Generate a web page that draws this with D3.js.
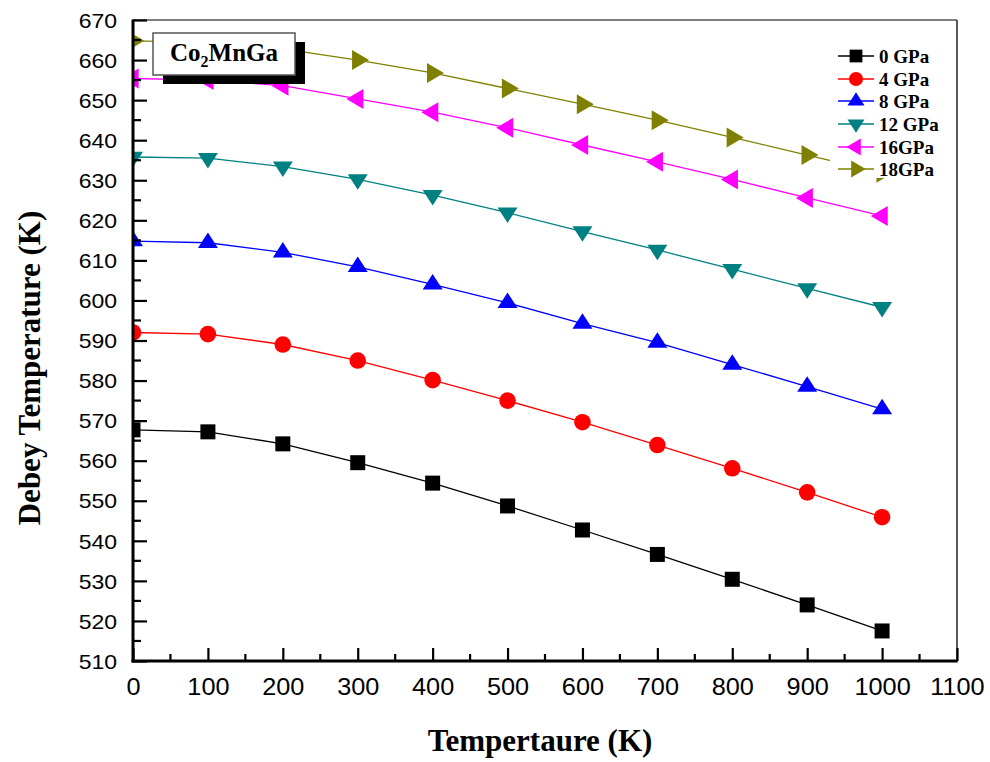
<!DOCTYPE html>
<html>
<head>
<meta charset="utf-8">
<script src="https://cdn.jsdelivr.net/npm/d3@7"></script>
<style>
  html, body { margin: 0; padding: 0; background: #fff; }
  svg { display: block; }
</style>
</head>
<body>
<svg id="chart" width="990" height="762"></svg>
<script>
// Temperature grid (K)
const temperatures = [0, 100, 200, 300, 400, 500, 600, 700, 800, 900, 1000];

// Debye temperature (K) for each pressure
const theta0GPa  = [567.7, 567.2, 564.2, 559.5, 554.4, 548.7, 542.7, 536.6, 530.4, 524.0, 517.5];
const theta4GPa  = [592.0, 591.6, 589.0, 585.0, 580.1, 575.0, 569.6, 563.9, 558.1, 552.1, 545.9];
const theta8GPa  = [614.8, 614.4, 612.0, 608.4, 604.0, 599.4, 594.2, 589.5, 584.0, 578.5, 572.9];
const theta12GPa = [635.8, 635.5, 633.4, 630.2, 626.3, 621.9, 617.2, 612.6, 607.8, 603.0, 598.3];
const theta16GPa = [655.4, 655.0, 653.6, 650.3, 647.0, 643.1, 638.8, 634.6, 630.2, 625.6, 621.1];
const theta18GPa = [664.8, 664.4, 662.8, 660.0, 656.8, 652.9, 649.0, 645.0, 640.7, 636.3, 631.9];

const seriesNames  = ["0 GPa", "4 GPa", "8 GPa", "12 GPa", "16GPa", "18GPa"];
const seriesValues = [theta0GPa, theta4GPa, theta8GPa, theta12GPa, theta16GPa, theta18GPa];
const seriesColors = ["#000000", "#ff0000", "#0000ff", "#008080", "#ff00ff", "#808000"];
const seriesShapes = ["square", "circle", "up", "down", "left", "right"];

const xTicks = [0, 100, 200, 300, 400, 500, 600, 700, 800, 900, 1000, 1100];
const yTicks = [510, 520, 530, 540, 550, 560, 570, 580, 590, 600, 610, 620, 630, 640, 650, 660, 670];

const compound = { base1: "Co", sub: "2", base2: "MnGa" };
const xTitle = "Tempertaure (K)";
const yTitle = "Debey Temperature (K)";

const svg = d3.select("#chart");
const plot = { left: 133, right: 957, top: 20, bottom: 661 };

const x = d3.scaleLinear().domain([0, 1100]).range([plot.left, plot.right]);
const y = d3.scaleLinear().domain([510, 670]).range([plot.bottom, plot.top]);

// marker path generator, centred on the data point
function markerPath(shape, k) {
  const s = k || 1;
  switch (shape) {
    case "square": {
      const h = 7.5 * s;
      return `M${-h},${-h}H${h}V${h}H${-h}Z`;
    }
    case "circle": {
      const r = 8.3 * s;
      return `M${r},0A${r},${r} 0 1,1 ${-r},0A${r},${r} 0 1,1 ${r},0Z`;
    }
    case "up": {
      const w = 10 * s, h = 15.5 * s;
      return `M0,${-2 * h / 3}L${w},${h / 3}L${-w},${h / 3}Z`;
    }
    case "down": {
      const w = 10 * s, h = 15.5 * s;
      return `M0,${2 * h / 3}L${w},${-h / 3}L${-w},${-h / 3}Z`;
    }
    case "left": {
      const w = 10 * s, h = 17 * s;
      return `M${-2 * h / 3},0L${h / 3},${-w}L${h / 3},${w}Z`;
    }
    case "right": {
      const w = 10 * s, h = 17 * s;
      return `M${2 * h / 3},0L${-h / 3},${-w}L${-h / 3},${w}Z`;
    }
  }
}

// clip region for the data
svg.append("defs").append("clipPath").attr("id", "plotClip")
  .append("rect")
  .attr("x", plot.left).attr("y", plot.top)
  .attr("width", plot.right - plot.left).attr("height", plot.bottom - plot.top);

// series
const line = d3.line().x((d, i) => x(temperatures[i])).y(d => y(d));
const dataLayer = svg.append("g").attr("clip-path", "url(#plotClip)");

seriesValues.forEach((vals, si) => {
  const g = dataLayer.append("g");
  g.append("path")
    .attr("d", line(vals))
    .attr("fill", "none")
    .attr("stroke", seriesColors[si])
    .attr("stroke-width", 1.3);
  g.selectAll("path.mk")
    .data(vals)
    .join("path")
    .attr("class", "mk")
    .attr("transform", (d, i) => `translate(${x(temperatures[i])},${y(d)})`)
    .attr("d", markerPath(seriesShapes[si]))
    .attr("fill", seriesColors[si]);
});

// frame: top and right thin, left and bottom heavy
svg.append("line")
  .attr("x1", plot.left).attr("x2", plot.right)
  .attr("y1", plot.top).attr("y2", plot.top)
  .attr("stroke", "#555").attr("stroke-width", 1.5);
svg.append("line")
  .attr("x1", plot.right).attr("x2", plot.right)
  .attr("y1", plot.top).attr("y2", plot.bottom)
  .attr("stroke", "#222").attr("stroke-width", 1.5);

// y axis with inward ticks
const yMinor = d3.range(515, 670, 10);
const yAxis = d3.axisLeft(y).tickValues(yTicks).tickSize(-14).tickPadding(30).tickFormat(d3.format("d"));
const gy = svg.append("g").attr("transform", `translate(${plot.left},0)`).call(yAxis);
gy.select(".domain").remove();
gy.selectAll(".tick line").attr("stroke", "#000").attr("stroke-width", 2.2);
gy.selectAll(".tick text")
  .attr("font-family", "'Liberation Sans', Arial, sans-serif")
  .attr("font-size", 20)
  .attr("fill", "#000")
  .attr("x", -16)
  .attr("dy", "0.36em")
  .attr("text-anchor", "end")
  .attr("transform", "scale(1.15,1)")
  .attr("transform-origin", "-16 0");
svg.append("g").selectAll("line").data(yMinor).join("line")
  .attr("x1", plot.left).attr("x2", plot.left + 8)
  .attr("y1", d => y(d)).attr("y2", d => y(d))
  .attr("stroke", "#000").attr("stroke-width", 2.2);

// x axis with inward ticks
const xMinor = d3.range(50, 1100, 100);
const xAxis = d3.axisBottom(x).tickValues(xTicks).tickSize(-13).tickPadding(30).tickFormat(d3.format("d"));
const gx = svg.append("g").attr("transform", `translate(0,${plot.bottom})`).call(xAxis);
gx.select(".domain").remove();
gx.selectAll(".tick line").attr("stroke", "#000").attr("stroke-width", 2.2);
gx.selectAll(".tick text")
  .attr("font-family", "'Liberation Sans', Arial, sans-serif")
  .attr("font-size", 23)
  .attr("fill", "#000")
  .attr("y", 34)
  .attr("dy", "0")
  .attr("transform", "scale(1.1,1)")
  .attr("transform-origin", "0 0");
svg.append("g").selectAll("line").data(xMinor).join("line")
  .attr("x1", d => x(d)).attr("x2", d => x(d))
  .attr("y1", plot.bottom).attr("y2", plot.bottom - 7)
  .attr("stroke", "#000").attr("stroke-width", 2.2);

// heavy left and bottom axis lines
svg.append("line")
  .attr("x1", plot.left).attr("x2", plot.left)
  .attr("y1", plot.top - 0.5).attr("y2", plot.bottom + 1.5)
  .attr("stroke", "#000").attr("stroke-width", 3);
svg.append("line")
  .attr("x1", plot.left - 1.5).attr("x2", plot.right + 0.75)
  .attr("y1", plot.bottom).attr("y2", plot.bottom)
  .attr("stroke", "#000").attr("stroke-width", 3);

// axis titles
svg.append("text")
  .attr("x", 540).attr("y", 751)
  .attr("text-anchor", "middle")
  .attr("font-family", "'Liberation Serif', 'Times New Roman', serif")
  .attr("font-weight", "bold")
  .attr("font-size", 31)
  .text(xTitle);
svg.append("text")
  .attr("transform", "translate(40,368) rotate(-90)")
  .attr("text-anchor", "middle")
  .attr("font-family", "'Liberation Serif', 'Times New Roman', serif")
  .attr("font-weight", "bold")
  .attr("font-size", 31)
  .text(yTitle);

// compound label with drop shadow
const box = { x: 153, y: 33, w: 142, h: 42 };
svg.append("rect")
  .attr("x", box.x + 10).attr("y", box.y + 9)
  .attr("width", box.w).attr("height", box.h)
  .attr("fill", "#000");
svg.append("rect")
  .attr("x", box.x).attr("y", box.y)
  .attr("width", box.w).attr("height", box.h)
  .attr("fill", "#fff").attr("stroke", "#555").attr("stroke-width", 1.5);
const label = svg.append("text")
  .attr("x", box.x + box.w / 2).attr("y", 61)
  .attr("text-anchor", "middle")
  .attr("font-family", "'Liberation Serif', 'Times New Roman', serif")
  .attr("font-weight", "bold")
  .attr("font-size", 25);
label.append("tspan").text(compound.base1);
label.append("tspan").attr("font-size", 16).attr("dy", 6).text(compound.sub);
label.append("tspan").attr("dy", -6).text(compound.base2);

// legend
const legend = svg.append("g");
legend.append("rect")
  .attr("x", 830).attr("y", 40).attr("width", 126).attr("height", 138)
  .attr("fill", "#fff");
const rowY = [56, 79, 101, 124, 147, 169];
seriesNames.forEach((name, i) => {
  const r = legend.append("g").attr("transform", `translate(0,${rowY[i]})`);
  r.append("line")
    .attr("x1", 838).attr("x2", 874).attr("y1", 0).attr("y2", 0)
    .attr("stroke", seriesColors[i]).attr("stroke-width", 1.3);
  r.append("path")
    .attr("transform", "translate(856,0)")
    .attr("d", markerPath(seriesShapes[i], 0.85))
    .attr("fill", seriesColors[i]);
  r.append("text")
    .attr("x", 879).attr("y", 6.5)
    .attr("font-family", "'Liberation Serif', 'Times New Roman', serif")
    .attr("font-weight", "bold")
    .attr("font-size", 19)
    .text(name);
});
</script>
</body>
</html>
